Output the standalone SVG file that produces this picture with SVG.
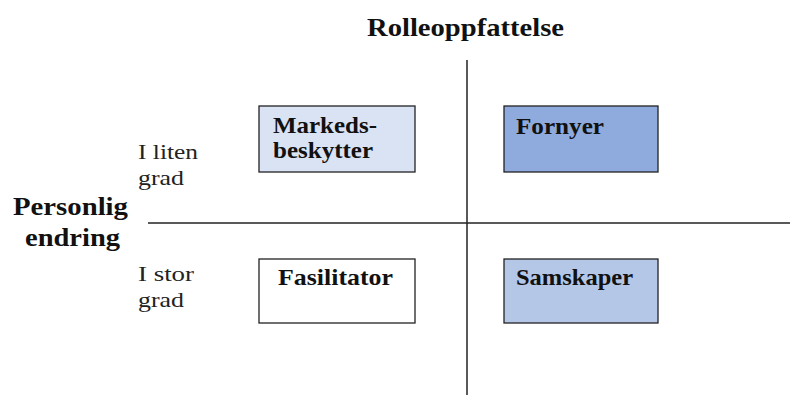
<svg xmlns="http://www.w3.org/2000/svg" width="790" height="396" viewBox="0 0 790 396">
  <style>
    .box { stroke: #222; stroke-width: 1.3; }
    .lbl { font-family: "Liberation Serif", "Times New Roman", serif; font-weight: bold; font-size: 23px; fill: #111; }
    .axis { font-family: "Liberation Serif", "Times New Roman", serif; font-weight: bold; font-size: 26px; fill: #111; }
    .deg { font-family: "Liberation Serif", "Times New Roman", serif; font-size: 22px; fill: #222; }
    .ax { stroke: #222; stroke-width: 1.5; fill: none; }
  </style>
  <rect width="790" height="396" fill="#fff"/>

  <g id="connectors">
    <line class="ax" x1="467" y1="60" x2="467" y2="395"/>
    <line class="ax" x1="148" y1="223" x2="790" y2="223"/>
  </g>

  <g id="axis-labels">
    <text class="axis" x="367" y="36" textLength="197" lengthAdjust="spacingAndGlyphs">Rolleoppfattelse</text>
    <text class="axis" x="13" y="215" textLength="115" lengthAdjust="spacingAndGlyphs">Personlig</text>
    <text class="axis" x="25" y="246" textLength="95" lengthAdjust="spacingAndGlyphs">endring</text>
    <text class="deg" x="138" y="159" textLength="60" lengthAdjust="spacingAndGlyphs">I liten</text>
    <text class="deg" x="138" y="185" textLength="46" lengthAdjust="spacingAndGlyphs">grad</text>
    <text class="deg" x="138" y="281" textLength="56" lengthAdjust="spacingAndGlyphs">I stor</text>
    <text class="deg" x="138" y="307" textLength="46" lengthAdjust="spacingAndGlyphs">grad</text>
  </g>

  <g id="markedsbeskytter">
    <rect class="box" x="259" y="106" width="156" height="66" fill="#dae3f3"/>
    <text class="lbl" x="273" y="133" textLength="104" lengthAdjust="spacingAndGlyphs">Markeds-</text>
    <text class="lbl" x="273" y="158" textLength="100" lengthAdjust="spacingAndGlyphs">beskytter</text>
  </g>

  <g id="fornyer">
    <rect class="box" x="504" y="106" width="154" height="66" fill="#8faadc"/>
    <text class="lbl" x="516" y="134" textLength="88" lengthAdjust="spacingAndGlyphs">Fornyer</text>
  </g>

  <g id="fasilitator">
    <rect class="box" x="259" y="259" width="156" height="64" fill="#fff"/>
    <text class="lbl" x="278" y="285" textLength="115" lengthAdjust="spacingAndGlyphs">Fasilitator</text>
  </g>

  <g id="samskaper">
    <rect class="box" x="504" y="259" width="154" height="64" fill="#b4c7e7"/>
    <text class="lbl" x="516" y="285" textLength="117" lengthAdjust="spacingAndGlyphs">Samskaper</text>
  </g>
</svg>
